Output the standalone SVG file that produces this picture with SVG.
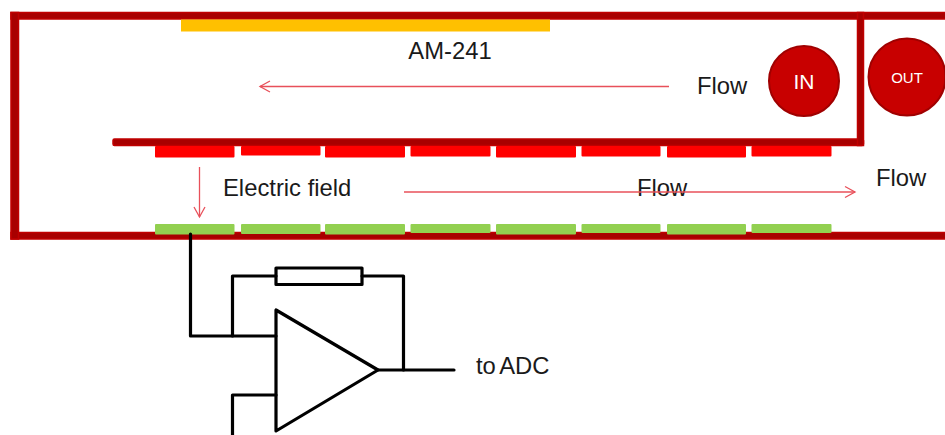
<svg xmlns="http://www.w3.org/2000/svg" width="945" height="435" viewBox="0 0 945 435">
<style>
text{font-family:"Liberation Sans",Arial,sans-serif;font-size:23.8px;fill:#1a1a1a}
.wall{fill:#a80000;stroke:#c00000;stroke-width:1.5}
.r{fill:#ff0000}
.g{fill:#92d050}
.flow{fill:none;stroke:#e8505a;stroke-width:1.3}
.b{fill:none;stroke:#000;stroke-width:3.2;stroke-linejoin:round;stroke-linecap:round}
.c{fill:#c80000;stroke:#a00000;stroke-width:2}
</style>
<defs>
<marker id="a" markerUnits="userSpaceOnUse" markerWidth="14" markerHeight="14" refX="12" refY="7" orient="auto"><path d="M2 1.5L12 7L2 12.5" fill="none" stroke="#e8505a" stroke-width="1.3"/></marker>
</defs>
<rect width="945" height="435" fill="#fff"/>
<g id="chamber">
<rect class="wall" x="11" y="12.500" width="940" height="6.500"/>
<rect class="wall" x="11" y="232.500" width="940" height="6.500"/>
<rect class="wall" x="11" y="12.500" width="7.500" height="226.500"/>
<rect class="wall" x="113" y="139" width="750.500" height="6.500" rx="1.500"/>
<rect class="wall" x="857.500" y="12.500" width="6" height="133"/>
</g>
<g id="source"><rect x="181" y="19.500" width="369" height="12" fill="#ffc000"/><text x="450" y="59" text-anchor="middle">AM-241</text></g>
<g id="top-electrodes">
<rect class="r" x="155" y="146" width="79.500" height="11.500" rx="1"/>
<rect class="r" x="241" y="146" width="79.500" height="9.500" rx="1"/>
<rect class="r" x="325" y="146" width="80" height="11.500" rx="1"/>
<rect class="r" x="410.500" y="146" width="80" height="10.500" rx="1"/>
<rect class="r" x="496" y="146" width="80" height="11.500" rx="1"/>
<rect class="r" x="581.500" y="146" width="79" height="10.500" rx="1"/>
<rect class="r" x="667" y="146" width="79" height="11.500" rx="1"/>
<rect class="r" x="751.500" y="146" width="80" height="10.500" rx="1"/>
</g>
<g id="bottom-electrodes">
<rect class="g" x="155" y="224" width="79.500" height="10.500" rx="1"/>
<rect class="g" x="241" y="224" width="79.500" height="10" rx="1"/>
<rect class="g" x="325" y="224" width="80" height="10.500" rx="1"/>
<rect class="g" x="410.500" y="224" width="80" height="9" rx="1"/>
<rect class="g" x="496" y="224" width="80" height="10.500" rx="1"/>
<rect class="g" x="581.500" y="224" width="79" height="9" rx="1"/>
<rect class="g" x="667" y="224" width="79" height="10.500" rx="1"/>
<rect class="g" x="751.500" y="224" width="80" height="9" rx="1"/>
</g>
<g id="in"><circle class="c" cx="804" cy="81" r="35"/><text x="804" y="88.500" text-anchor="middle" style="fill:#fff;font-size:21px">IN</text></g>
<g id="out"><circle class="c" cx="907" cy="77" r="38.500"/><text x="907" y="83" text-anchor="middle" style="fill:#fff;font-size:15px">OUT</text></g>
<g id="labels">
<text x="697" y="94">Flow</text>
<text x="876" y="186">Flow</text>
<text x="637" y="196">Flow</text>
<text x="223" y="196">Electric field</text>
<text x="476" y="374" style="word-spacing:-2px">to ADC</text>
</g>
<g id="connectors">
<path class="flow" d="M669 86.500H260" marker-end="url(#a)"/>
<path class="flow" d="M199.500 167V217" marker-end="url(#a)"/>
<path class="flow" d="M404 192H855" marker-end="url(#a)"/>
<path class="b" d="M190.500 234V336H276"/>
<path class="b" d="M232.500 336V276H276M362 276H403.500V370"/>
<path class="b" d="M378 370H454"/>
<path class="b" d="M276 395H232.500V436"/>
</g>
<g id="resistor"><rect class="b" x="276" y="268" width="86" height="16.500"/></g>
<g id="amplifier"><path class="b" d="M276 310V431L378 370Z"/></g>
</svg>
